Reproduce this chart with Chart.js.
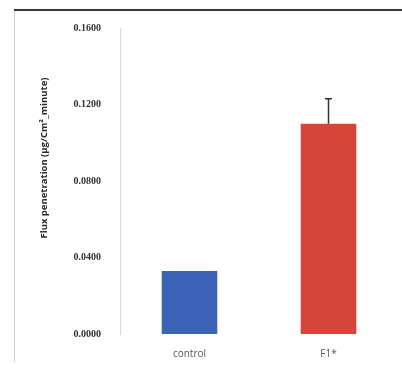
<!DOCTYPE html>
<html>
<head>
<meta charset="utf-8">
<script src="https://cdn.jsdelivr.net/npm/chart.js@4/dist/chart.umd.min.js"></script>
<style>
  html, body { margin: 0; padding: 0; background: #fff; }
  #wrap { width: 402px; height: 369px; position: relative; }
</style>
</head>
<body>
<div id="wrap"><canvas id="c" width="402" height="369"></canvas></div>
<script>
// Flux penetration per formulation
const categories = ['control', 'F1*'];
const fluxValues = [0.033, 0.110];
const fluxErrors = [0, 0.013];
const barColors = ['#3B63B6', '#D7443A'];
const yTickStep = 0.04;
const yMax = 0.16;
const yTitle = 'Flux penetration (µg/Cm²_minute)';

// Outer frame: heavy top rule and a faint left rule
const framePlugin = {
  id: 'frame',
  beforeDraw(chart) {
    const ctx = chart.ctx;
    ctx.save();
    ctx.fillStyle = '#fff';
    ctx.fillRect(0, 0, chart.width, chart.height);
    ctx.strokeStyle = '#cfcfcf';
    ctx.lineWidth = 1;
    ctx.beginPath();
    ctx.moveTo(14.5, 10);
    ctx.lineTo(14.5, 362);
    ctx.stroke();
    ctx.strokeStyle = '#3a3a3a';
    ctx.lineWidth = 2;
    ctx.beginPath();
    ctx.moveTo(14, 10);
    ctx.lineTo(402, 10);
    ctx.stroke();
    ctx.restore();
  }
};

// Rotated y-axis title placed beside the tick labels
const yTitlePlugin = {
  id: 'yTitle',
  afterDraw(chart) {
    const ctx = chart.ctx;
    ctx.save();
    ctx.translate(44, 158);
    ctx.rotate(-Math.PI / 2);
    ctx.font = 'bold 9.5px "Open Sans", "Liberation Sans", sans-serif';
    ctx.fillStyle = '#2a2a2a';
    ctx.textAlign = 'center';
    ctx.textBaseline = 'middle';
    ctx.fillText(yTitle, 0, 0);
    ctx.restore();
  }
};

// Upper error whiskers drawn from the data through the scales
const errorBarPlugin = {
  id: 'errorBars',
  afterDatasetsDraw(chart) {
    const ctx = chart.ctx;
    const meta = chart.getDatasetMeta(0);
    const yScale = chart.scales.y;
    ctx.save();
    ctx.strokeStyle = '#333';
    ctx.lineWidth = 1.5;
    meta.data.forEach((bar, i) => {
      const err = fluxErrors[i];
      if (!err) return;
      const x = bar.x;
      const yTop = yScale.getPixelForValue(fluxValues[i] + err);
      const yBase = yScale.getPixelForValue(fluxValues[i]);
      ctx.beginPath();
      ctx.moveTo(x, yBase);
      ctx.lineTo(x, yTop);
      ctx.moveTo(x - 3.5, yTop);
      ctx.lineTo(x + 3.5, yTop);
      ctx.stroke();
    });
    ctx.restore();
  }
};

new Chart(document.getElementById('c'), {
  type: 'bar',
  data: {
    labels: categories,
    datasets: [{
      data: fluxValues,
      backgroundColor: barColors,
      borderWidth: 0,
      categoryPercentage: 0.8,
      barPercentage: 0.5
    }]
  },
  options: {
    responsive: false,
    animation: false,
    devicePixelRatio: 1,
    layout: { padding: { top: 28, right: 4, bottom: 0, left: 0 } },
    plugins: { legend: { display: false }, tooltip: { enabled: false } },
    scales: {
      x: {
        grid: { display: false, drawTicks: false },
        border: { display: false },
        ticks: {
          padding: 14,
          color: '#555',
          font: { family: '"Open Sans", "Liberation Sans", sans-serif', size: 10 }
        },
        afterFit(scale) { scale.height = 35; }
      },
      y: {
        min: 0,
        max: yMax,
        grid: { display: false, drawTicks: false },
        border: { display: true, color: '#d8d8d8', width: 1 },
        ticks: {
          stepSize: yTickStep,
          padding: 19,
          color: '#333',
          font: { family: '"Liberation Serif", "DejaVu Serif", serif', size: 10, weight: 'bold' },
          callback: v => v.toFixed(4)
        },
        afterFit(scale) { scale.width = 120; }
      }
    }
  },
  plugins: [framePlugin, yTitlePlugin, errorBarPlugin]
});
</script>
</body>
</html>
